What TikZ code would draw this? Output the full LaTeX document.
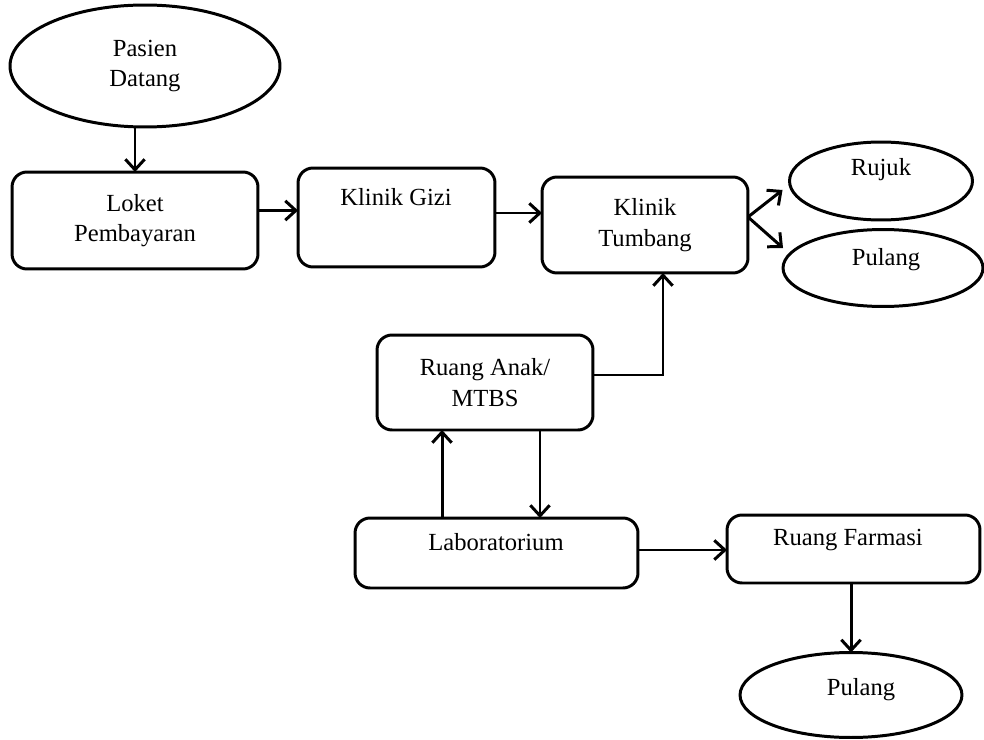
\documentclass[tikz,border=0pt]{standalone}
\usepackage{fontspec}
\setmainfont{Liberation Serif}
\usetikzlibrary{arrows.meta,shapes.geometric}
\begin{document}
\begin{tikzpicture}[x=0.02cm,y=-0.02cm,
  every node/.style={font=\fontsize{14}{17.5}\selectfont},
  box/.style={draw,line width=1.7pt,rounded corners=0.3cm,inner sep=0pt,outer sep=0pt,align=center},
  oval/.style={draw,ellipse,line width=1.7pt,inner sep=0pt,outer sep=0pt,align=center},
  txt/.style={align=center,inner sep=0pt},
  arr/.style={line width=1.7pt,-{Straight Barb[length=6pt,width=11pt,line width=1.7pt]}}]
\useasboundingbox (0,0) rectangle (984,740);
% nodes
\node[oval,minimum width=5.4cm,minimum height=2.44cm] (pasien) at (145,66) {Pasien\\Datang};
\node[box,minimum width=4.92cm,minimum height=1.94cm] (loket) at (135,220.5) {Loket\\Pembayaran};
\node[box,minimum width=3.94cm,minimum height=1.98cm] (gizi) at (396.5,217.5) {};
\node[txt] (giziT) at (396,197) {Klinik Gizi};
\node[box,minimum width=4.12cm,minimum height=1.92cm] (tumbang) at (645,225) {Klinik\\Tumbang};
\node[oval,minimum width=3.66cm,minimum height=1.56cm] (rujuk) at (881,181) {};
\node[txt] (rujukT) at (881,170) {Rujuk};
\node[oval,minimum width=4.0cm,minimum height=1.54cm] (pulangA) at (883,268) {};
\node[txt] (pulangAT) at (886,260) {Pulang};
\node[box,minimum width=4.32cm,minimum height=1.9cm] (anak) at (485,382.5) {Ruang Anak/\\MTBS};
\node[box,minimum width=5.66cm,minimum height=1.4cm] (lab) at (496.5,553) {};
\node[txt] (labT) at (496,542) {Laboratorium};
\node[box,minimum width=5.06cm,minimum height=1.36cm] (farmasi) at (853.5,549) {};
\node[txt] (farmasiT) at (848,540) {Ruang Farmasi};
\node[oval,minimum width=4.44cm,minimum height=1.7cm] (pulangB) at (851,695) {};
\node[txt] (pulangBT) at (861,690) {Pulang};
% connectors
\draw[arr] (loket.north |- pasien.south) -- (loket.north);
\draw[arr] ([yshift=0.2cm]loket.east) -- ([yshift=0.2cm]loket.east -| gizi.west);
\draw[arr] ([yshift=0.09cm]gizi.east) -- ([yshift=0.09cm]gizi.east -| tumbang.west);
\draw[arr] ([yshift=0.16cm]tumbang.east) -- ([xshift=-0.14cm,yshift=-0.18cm]rujuk.west);
\draw[arr] ([yshift=0.16cm]tumbang.east) -- ([yshift=0.4cm]pulangA.west);
\draw[arr] ([yshift=0.15cm]anak.east) -| ([xshift=0.36cm]tumbang.south);
\draw[arr] ([xshift=-0.86cm]anak.south |- lab.north) -- ([xshift=-0.86cm]anak.south);
\draw[arr] ([xshift=1.1cm]anak.south) -- ([xshift=1.1cm]anak.south |- lab.north);
\draw[arr] ([yshift=0.06cm]lab.east) -- ([yshift=0.06cm]lab.east -| farmasi.west);
\draw[arr] (pulangB.north |- farmasi.south) -- (pulangB.north);
\end{tikzpicture}
\end{document}
